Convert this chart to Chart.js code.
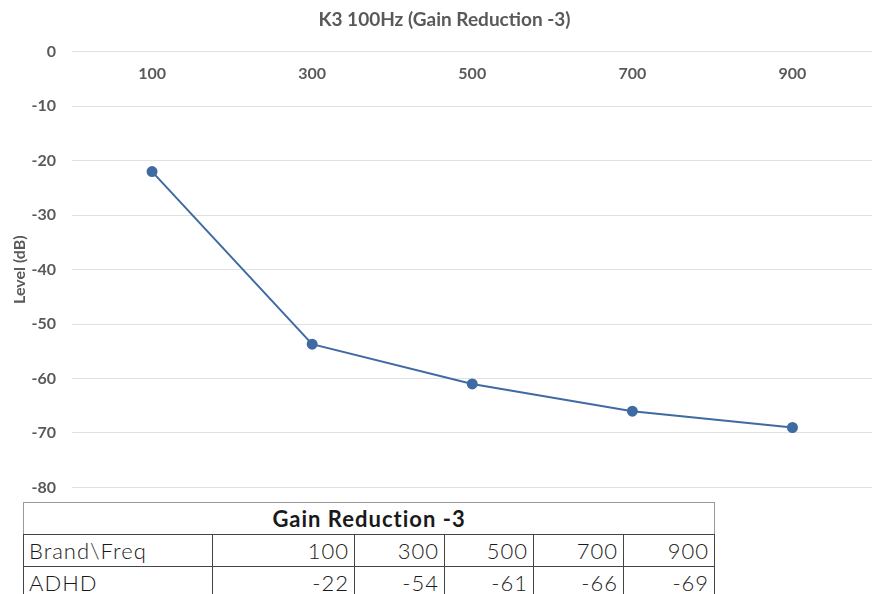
<!DOCTYPE html>
<html>
<head>
<meta charset="utf-8">
<script src="https://cdn.jsdelivr.net/npm/chart.js@4"></script>
<style>
  body { margin: 0; background: #fff; width: 872px; height: 594px; overflow: hidden; position: relative; }
  #wrap { position: absolute; left: 0; top: 0; width: 872px; height: 500px; overflow: hidden; }
  table { position: absolute; left: 23px; top: 502px; border-collapse: collapse; table-layout: fixed; width: 692px;
          font-family: "Lato", sans-serif; font-weight: 300; color: #1a1a1a; font-size: 22px; letter-spacing: 1px; }
  td { border: 1px solid #444; padding: 0 5px; height: 31px; line-height: 31px; white-space: nowrap; overflow: hidden; }
  td.num { text-align: right; }
  td.head { text-align: center; font-weight: 700; letter-spacing: 1px; border-color: #999; border-bottom-color: #444; }
</style>
</head>
<body>
<div id="wrap"><canvas id="line_chart" width="879" height="513"></canvas></div>
<table id="tbl"></table>
<script>
var chartTitle = 'K3 100Hz (Gain Reduction -3)';
var freqs = ['100', '300', '500', '700', '900'];
var levels = [-22, -53.7, -61, -66, -69];
var tableTitle = 'Gain Reduction -3';
var rowLabel = 'ADHD';
var tableValues = [-22, -54, -61, -66, -69];
var yTicks = [0, -10, -20, -30, -40, -50, -60, -70, -80];

document.addEventListener("DOMContentLoaded", function() {
    // data table under the chart
    var tbl = document.getElementById('tbl');
    var widths = [189, 142, 90, 89, 90, 91];
    var html = '<colgroup>';
    widths.forEach(function(w) { html += '<col style="width:' + w + 'px">'; });
    html += '</colgroup>';
    html += '<tr><td class="head" colspan="6">' + tableTitle + '</td></tr>';
    html += '<tr><td>Brand\\Freq</td>';
    freqs.forEach(function(f) { html += '<td class="num">' + f + '</td>'; });
    html += '</tr><tr><td>' + rowLabel + '</td>';
    tableValues.forEach(function(v) { html += '<td class="num">' + v + '</td>'; });
    html += '</tr>';
    tbl.innerHTML = html;

    var ctx = document.getElementById('line_chart').getContext('2d');
    var lineChart = new Chart(ctx, {
        type: 'line',
        data: {
            labels: freqs,
            datasets: [{
                label: rowLabel,
                data: levels,
                borderColor: '#3f6ba3',
                backgroundColor: '#3f6ba3',
                borderWidth: 2,
                pointRadius: 4.5,
                pointHoverRadius: 4.5,
                tension: 0
            }]
        },
        options: {
            responsive: false,
            animation: false,
            layout: { padding: { left: 10, right: 0, top: 0, bottom: 4 } },
            plugins: {
                legend: { display: false },
                tooltip: { enabled: false },
                title: {
                    display: true,
                    text: chartTitle,
                    color: '#595959',
                    font: { family: 'Lato', size: 19, weight: 'bold' },
                    padding: { top: 8, bottom: 21 }
                }
            },
            scales: {
                x: {
                    position: { y: 0 },
                    offset: true,
                    grid: { display: false },
                    border: { display: false },
                    afterFit: function(scale) { scale.height = 0; },
                    ticks: {
                        color: '#595959',
                        font: { family: 'Lato', size: 16, weight: 'bold' },
                        padding: 4,
                        maxRotation: 0
                    }
                },
                y: {
                    min: -80,
                    max: 0,
                    afterFit: function(scale) { scale.width = 62; },
                    afterBuildTicks: function(scale) {
                        scale.ticks = yTicks.map(function(v) { return { value: v }; });
                    },
                    grid: { color: '#e0e0e0', drawTicks: false },
                    border: { display: false },
                    title: {
                        display: true,
                        text: 'Level (dB)',
                        color: '#595959',
                        font: { family: 'Lato', size: 16, weight: 'bold' },
                        padding: 0
                    },
                    ticks: {
                        color: '#595959',
                        font: { family: 'Lato', size: 16, weight: 'bold' },
                        padding: 16
                    }
                }
            }
        }
    });
});
</script>
</body>
</html>
